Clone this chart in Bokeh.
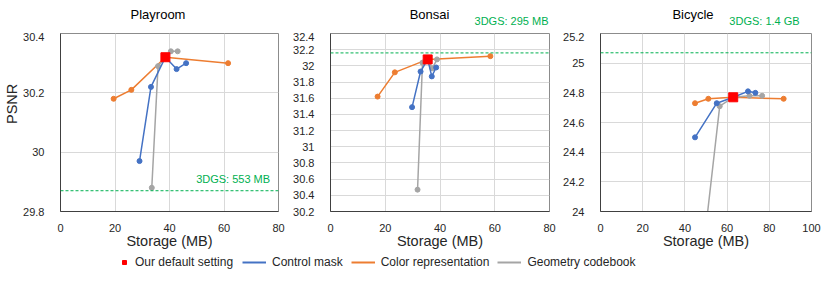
import math
from bokeh.plotting import figure
from bokeh.models import (Range1d, FixedTicker, Span, Label, Legend, LegendItem,
                          CustomJSTickFormatter)
from bokeh.layouts import row, column
from bokeh.embed import file_html
from bokeh.resources import INLINE

# ---------------- data ----------------
titles = ["Playroom", "Bonsai", "Bicycle"]
baseline_labels = ["3DGS: 553 MB", "3DGS: 295 MB", "3DGS: 1.4 GB"]
baseline_psnr = [29.87, 32.16, 25.07]

x_ticks = [[0, 20, 40, 60, 80], [0, 20, 40, 60, 80], [0, 20, 40, 60, 80, 100]]
y_ticks = [[29.8, 30.0, 30.2, 30.4],
           [30.2, 30.4, 30.6, 30.8, 31.0, 31.2, 31.4, 31.6, 31.8, 32.0, 32.2, 32.4],
           [24.0, 24.2, 24.4, 24.6, 24.8, 25.0, 25.2]]

# Playroom
play_default_x = [38.5]
play_default_y = [30.32]
play_mask_x = [29.0, 33.2, 38.5, 42.6, 46.1]
play_mask_y = [29.97, 30.22, 30.32, 30.28, 30.30]
play_color_x = [19.5, 26.0, 38.5, 61.5]
play_color_y = [30.18, 30.21, 30.32, 30.30]
play_geo_x = [33.5, 35.8, 38.5, 40.5, 43.0]
play_geo_y = [29.88, 30.29, 30.32, 30.34, 30.34]

# Bonsai
bon_default_x = [35.5]
bon_default_y = [32.08]
bon_mask_x = [29.8, 32.9, 35.5, 37.0, 38.6]
bon_mask_y = [31.49, 31.93, 32.08, 31.87, 31.98]
bon_color_x = [17.2, 23.5, 35.5, 58.4]
bon_color_y = [31.62, 31.92, 32.08, 32.12]
bon_geo_x = [31.8, 33.6, 35.5, 37.2, 38.9]
bon_geo_y = [30.47, 32.04, 32.08, 31.97, 32.08]

# Bicycle
bic_default_x = [62.9]
bic_default_y = [24.77]
bic_mask_x = [44.8, 55.1, 62.9, 69.9, 73.4]
bic_mask_y = [24.50, 24.73, 24.77, 24.81, 24.80]
bic_color_x = [44.8, 51.1, 62.9, 86.8]
bic_color_y = [24.73, 24.76, 24.77, 24.76]
bic_geo_x = [50.0, 56.5, 62.9, 70.6, 76.6]
bic_geo_y = [23.90, 24.71, 24.77, 24.78, 24.78]

y_label = "PSNR"
x_label = "Storage (MB)"
legend_labels = ["Our default setting", "Control mask", "Color representation", "Geometry codebook"]

# ---------------- style ----------------
FONT = "Liberation Sans"
BLUE = "#4472C4"
ORANGE = "#ED7D31"
GRAY = "#A5A5A5"
RED = "#FF0000"
GREEN = "#00B050"
TEXT = "#262626"

SIDE_W = 20
panels = [
    dict(x=(0, 80), y=(29.8, 30.4), w=270, bl=37, fw=221,
         mask=(play_mask_x, play_mask_y), color=(play_color_x, play_color_y),
         geo=(play_geo_x, play_geo_y), dflt=(play_default_x, play_default_y)),
    dict(x=(0, 80), y=(30.2, 32.4), w=270, bl=39, fw=220,
         mask=(bon_mask_x, bon_mask_y), color=(bon_color_x, bon_color_y),
         geo=(bon_geo_x, bon_geo_y), dflt=(bon_default_x, bon_default_y)),
    dict(x=(0, 100), y=(24.0, 25.2), w=262, bl=34, fw=217,
         mask=(bic_mask_x, bic_mask_y), color=(bic_color_x, bic_color_y),
         geo=(bic_geo_x, bic_geo_y), dflt=(bic_default_x, bic_default_y)),
]

TOTAL_W = SIDE_W + sum(pc["w"] for pc in panels)
HEAD_H = 32
H = 220
TOP = 1
FH = 178


def strip(w, h, flip=True):
    f = figure(width=w, height=h, output_backend="svg", toolbar_location=None, title=None,
               x_range=Range1d(0, w), y_range=Range1d(h, 0) if flip else Range1d(0, 1),
               x_axis_location=None, y_axis_location=None,
               min_border_left=0, min_border_right=0, min_border_top=0, min_border_bottom=0)
    f.outline_line_color = None
    f.grid.visible = False
    return f


# header strip with the panel titles and the outside baseline notes
head = strip(TOTAL_W, HEAD_H)
# side strip with the shared y-axis title
side = strip(SIDE_W, H)
side.add_layout(Label(x=11.5, y=87, text=y_label, angle=math.pi / 2, text_font=FONT,
                      text_font_size="14.5px", text_color=TEXT, text_align="center",
                      text_baseline="middle"))

figs = [side]
offset = SIDE_W
for i, pc in enumerate(panels):
    p = figure(width=pc["w"], height=H, output_backend="svg", toolbar_location=None,
               title=None,
               x_range=Range1d(*pc["x"]), y_range=Range1d(*pc["y"]),
               min_border_left=pc["bl"], min_border_right=pc["w"] - pc["bl"] - pc["fw"],
               min_border_top=TOP, min_border_bottom=H - TOP - FH)
    p.background_fill_color = "white"
    p.outline_line_color = "#8C8C8C"
    p.outline_line_width = 1
    p.xaxis.ticker = FixedTicker(ticks=x_ticks[i])
    p.yaxis.ticker = FixedTicker(ticks=y_ticks[i])
    p.yaxis.formatter = CustomJSTickFormatter(code="return String(Math.round(tick*10)/10)")
    for ax in (p.xaxis[0], p.yaxis[0]):
        ax.major_tick_line_color = None
        ax.minor_tick_line_color = None
        ax.axis_line_color = "#404040"
        ax.major_label_text_font = FONT
        ax.major_label_text_font_size = "11px"
        ax.major_label_text_color = TEXT
    p.yaxis.major_label_standoff = 10
    p.xaxis.major_label_standoff = 6
    p.xaxis.axis_label = x_label
    p.xaxis.axis_label_text_font = FONT
    p.xaxis.axis_label_text_font_size = "14.5px"
    p.xaxis.axis_label_text_font_style = "normal"
    p.xaxis.axis_label_text_color = TEXT
    p.xaxis.axis_label_standoff = -2
    p.grid.grid_line_color = "#D9D9D9"
    p.grid.grid_line_width = 1

    x0, x1 = pc["x"]
    y0, y1 = pc["y"]
    sx = (x1 - x0) / pc["fw"]
    sy = (y1 - y0) / FH

    # baseline
    p.add_layout(Span(location=baseline_psnr[i], dimension="width", line_color=GREEN,
                      line_dash="3 2", line_width=1))

    # series
    p.line(*pc["color"], line_color=ORANGE, line_width=1.5)
    p.scatter(*pc["color"], size=5, fill_color=ORANGE, line_color=ORANGE)
    p.line(*pc["geo"], line_color=GRAY, line_width=1.5)
    p.scatter(*pc["geo"], size=5, fill_color=GRAY, line_color=GRAY)
    p.line(*pc["mask"], line_color=BLUE, line_width=1.5)
    p.scatter(*pc["mask"], size=5, fill_color=BLUE, line_color=BLUE)
    p.scatter(*pc["dflt"], marker="square", size=9, fill_color=RED, line_color=RED)

    frame_left = offset + pc["bl"]
    frame_right = frame_left + pc["fw"]
    frame_center = (frame_left + frame_right) / 2

    # title in header strip
    head.add_layout(Label(x=frame_center - 10, y=14, text=titles[i], text_font=FONT,
                          text_font_size="13px", text_color="black", text_align="center",
                          text_baseline="middle"))

    # baseline note
    if i == 0:
        p.add_layout(Label(x=x0 + 175 * sx, y=baseline_psnr[i] + 12 * sy,
                           text=baseline_labels[i], text_font=FONT,
                           text_font_size="11px", text_color=GREEN, text_align="center",
                           text_baseline="middle"))
    elif i == 1:
        head.add_layout(Label(x=frame_right - 1, y=20, text=baseline_labels[i],
                              text_font=FONT, text_font_size="11px", text_color=GREEN,
                              text_align="right", text_baseline="middle"))
    else:
        head.add_layout(Label(x=frame_center + 61.5, y=20, text=baseline_labels[i],
                              text_font=FONT, text_font_size="11px", text_color=GREEN,
                              text_align="center", text_baseline="middle"))
    figs.append(p)
    offset += pc["w"]

# legend strip (proxy renderers lie outside its visible range)
lf = strip(TOTAL_W, 20, flip=False)
lf.x_range = Range1d(0, 1)
r_red = lf.scatter(play_default_x, play_default_y, marker="square", size=8,
                   fill_color=RED, line_color=RED)
r_blue = lf.line(play_mask_x, play_mask_y, line_color=BLUE, line_width=2)
r_orange = lf.line(play_color_x, play_color_y, line_color=ORANGE, line_width=2)
r_gray = lf.line(play_geo_x, play_geo_y, line_color=GRAY, line_width=2)

common = dict(orientation="horizontal", padding=0, margin=0, border_line_color=None,
              background_fill_alpha=0, label_text_font=FONT, label_text_font_size="12px",
              label_text_color=TEXT, label_standoff=6, glyph_height=20, label_height=20,
              spacing=8)
leg1 = Legend(items=[LegendItem(label=legend_labels[0], renderers=[r_red])],
              location=(119, 0), glyph_width=10, **common)
leg2 = Legend(items=[LegendItem(label=legend_labels[1], renderers=[r_blue]),
                     LegendItem(label=legend_labels[2], renderers=[r_orange]),
                     LegendItem(label=legend_labels[3], renderers=[r_gray])],
              location=(242, 0), glyph_width=24, **common)
lf.add_layout(leg1)
lf.add_layout(leg2)

layout = column(head, row(*figs), lf)
open("out.html", "w").write(file_html(layout, INLINE))
